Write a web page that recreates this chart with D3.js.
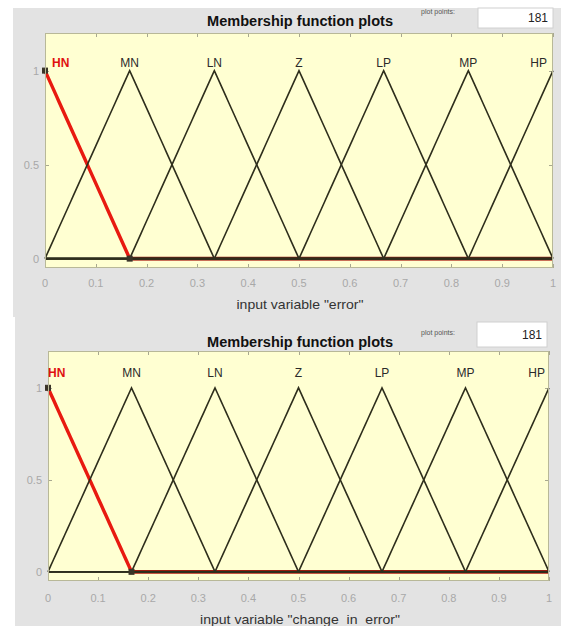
<!DOCTYPE html>
<html>
<head>
<meta charset="utf-8">
<script src="https://cdn.jsdelivr.net/npm/d3@7"></script>
<style>
  html, body { margin: 0; padding: 0; background: #ffffff; }
  svg { display: block; }
  text { font-family: "Liberation Sans", Arial, sans-serif; }
</style>
</head>
<body>
<svg id="chart" width="561" height="626"></svg>
<script>
// Membership function names and triangular parameters [a, b, c]
const mfNames = ["HN", "MN", "LN", "Z", "LP", "MP", "HP"];
const mfParams = [
  [-0.1667, 0.0000, 0.1667],
  [ 0.0000, 0.1667, 0.3333],
  [ 0.1667, 0.3333, 0.5000],
  [ 0.3333, 0.5000, 0.6667],
  [ 0.5000, 0.6667, 0.8333],
  [ 0.6667, 0.8333, 1.0000],
  [ 0.8333, 1.0000, 1.1667]
];
const selectedMf = 0;               // highlighted membership function (HN)
const inputNames = ["error", "change_in_error"];
const plotPoints = 181;
const xTicks = [0, 0.1, 0.2, 0.3, 0.4, 0.5, 0.6, 0.7, 0.8, 0.9, 1];
const xTickLabels = ["0", "0.1", "0.2", "0.3", "0.4", "0.5", "0.6", "0.7", "0.8", "0.9", "1"];
const yTicks = [0, 0.5, 1];
const yTickLabels = ["0", "0.5", "1"];
const xRange = [0, 1];
const yRange = [-0.05, 1.2];

// Panel layout (window pixels)
const panels = [
  { bg: [13, 8, 561, 317], ax: [45, 33, 553, 268], titleY: 26, box: [478, 8, 553, 28], ppY: 14, labelY: 67, tickY: 287, xlabY: 309, xlabW: 127, hnX: 52, hpX: 547 },
  { bg: [15, 316, 561, 626], ax: [48, 351, 549, 581], titleY: 347, box: [477, 322, 547, 347], ppY: 335, labelY: 377, tickY: 602, xlabY: 624, xlabW: 200, hnX: 48, hpX: 545 }
];

const svg = d3.select("#chart");

function trimf(x, p) {
  const [a, b, c] = p;
  const left = b === a ? (x >= b ? 1 : 0) : (x - a) / (b - a);
  const right = c === b ? (x <= b ? 1 : 0) : (c - x) / (c - b);
  return Math.max(Math.min(left, right), 0);
}

const xs = d3.range(plotPoints).map(i => xRange[0] + (xRange[1] - xRange[0]) * i / (plotPoints - 1));

panels.forEach((P, pi) => {
  const g = svg.append("g");
  const [bx0, by0, bx1, by1] = P.bg;
  g.append("rect").attr("x", bx0).attr("y", by0).attr("width", bx1 - bx0).attr("height", by1 - by0)
    .attr("fill", "#e3e3e3");

  const [x0, y0, x1, y1] = P.ax;
  const x = d3.scaleLinear().domain(xRange).range([x0, x1]);
  const y = d3.scaleLinear().domain(yRange).range([y1, y0]);

  // axes background
  g.append("rect").attr("x", x0).attr("y", y0).attr("width", x1 - x0).attr("height", y1 - y0)
    .attr("fill", "#ffffd2");

  // title
  g.append("text").attr("x", 300).attr("y", P.titleY).attr("text-anchor", "middle")
    .attr("font-size", 14.5).attr("font-weight", "bold").attr("fill", "#111")
    .attr("textLength", 186).attr("lengthAdjust", "spacingAndGlyphs").text("Membership function plots");

  // plot points edit box
  g.append("text").attr("x", 438).attr("y", P.ppY).attr("text-anchor", "middle")
    .attr("font-size", 7).attr("fill", "#555").text("plot points:");
  const [ex0, ey0, ex1, ey1] = P.box;
  g.append("rect").attr("x", ex0).attr("y", ey0).attr("width", ex1 - ex0).attr("height", ey1 - ey0)
    .attr("fill", "#ffffff").attr("stroke", "#d0d0d0");
  g.append("text").attr("x", ex1 - 5).attr("y", (ey0 + ey1) / 2 + 4).attr("text-anchor", "end")
    .attr("font-size", 12).attr("fill", "#222").text(String(plotPoints));

  // ticks inside axes
  const tickG = g.append("g").attr("stroke", "#a8a890").attr("stroke-width", 1);
  xTicks.forEach(t => {
    const px = Math.round(x(t)) + 0.5;
    tickG.append("line").attr("x1", px).attr("x2", px).attr("y1", y1).attr("y2", y1 - 4);
    tickG.append("line").attr("x1", px).attr("x2", px).attr("y1", y0).attr("y2", y0 + 4);
  });
  yTicks.forEach(t => {
    const py = Math.round(y(t)) + 0.5;
    tickG.append("line").attr("x1", x0).attr("x2", x0 + 4).attr("y1", py).attr("y2", py);
    tickG.append("line").attr("x1", x1).attr("x2", x1 - 4).attr("y1", py).attr("y2", py);
  });

  // tick labels
  xTicks.forEach((t, i) => {
    g.append("text").attr("x", x(t)).attr("y", P.tickY).attr("text-anchor", "middle")
      .attr("font-size", 11).attr("fill", "#a8a8a8").text(xTickLabels[i]);
  });
  yTicks.forEach((t, i) => {
    g.append("text").attr("x", x0 - 6).attr("y", y(t) + 4).attr("text-anchor", "end")
      .attr("font-size", 11).attr("fill", "#a8a8a8").text(yTickLabels[i]);
  });

  // x label
  const xlab = `input variable "${inputNames[pi]}"`;
  g.append("text").attr("x", 300).attr("y", P.xlabY).attr("text-anchor", "middle")
    .attr("font-size", 13).attr("fill", "#333")
    .attr("textLength", P.xlabW).attr("lengthAdjust", "spacingAndGlyphs").text(xlab);

  // membership function curves
  const line = d3.line().x(d => x(d[0])).y(d => y(d[1]));
  const curves = mfParams.map(p => xs.map(v => [v, trimf(v, p)]));

  // selected curve drawn first, thicker, in red
  g.append("path").datum(curves[selectedMf]).attr("d", line)
    .attr("fill", "none").attr("stroke", "#e81a10").attr("stroke-width", 3.4)
    .attr("stroke-linejoin", "round");
  // flat part of selected curve appears darker where other curves overlap
  g.append("path").datum(curves[selectedMf].filter(d => d[0] >= mfParams[selectedMf][2] - 1e-9)).attr("d", line)
    .attr("fill", "none").attr("stroke", "#9a1c10").attr("stroke-width", 3.6);

  curves.forEach((c, i) => {
    if (i === selectedMf) return;
    g.append("path").datum(c).attr("d", line)
      .attr("fill", "none").attr("stroke", "#2e2e1c").attr("stroke-width", 1.6)
      .attr("stroke-linejoin", "miter");
  });

  // vertex markers of selected curve
  const sp = mfParams[selectedMf];
  [[sp[1], 1], [sp[2], 0]].forEach(([vx, vy]) => {
    if (vx < xRange[0] || vx > xRange[1]) return;
    g.append("rect").attr("x", x(vx) - 2.5).attr("y", y(vy) - 2.5).attr("width", 5).attr("height", 5)
      .attr("fill", "#3a3428").attr("stroke", "#3a3428").attr("stroke-width", 1);
  });

  // axes box
  g.append("rect").attr("x", x0 + 0.5).attr("y", y0 + 0.5).attr("width", x1 - x0 - 1).attr("height", y1 - y0 - 1)
    .attr("fill", "none").attr("stroke", "#b8b898").attr("stroke-width", 1);

  // membership function names
  mfNames.forEach((name, i) => {
    const peak = mfParams[i][1];
    let anchor = "middle", px = x(peak);
    if (i === 0) { anchor = "start"; px = P.hnX; }
    if (i === mfNames.length - 1) { anchor = "end"; px = P.hpX; }
    g.append("text").attr("x", px).attr("y", P.labelY).attr("text-anchor", anchor)
      .attr("font-size", 12).attr("fill", i === selectedMf ? "#e01010" : "#2a2a2a")
      .attr("font-weight", i === selectedMf ? "bold" : "normal").text(name);
  });
});
</script>
</body>
</html>
